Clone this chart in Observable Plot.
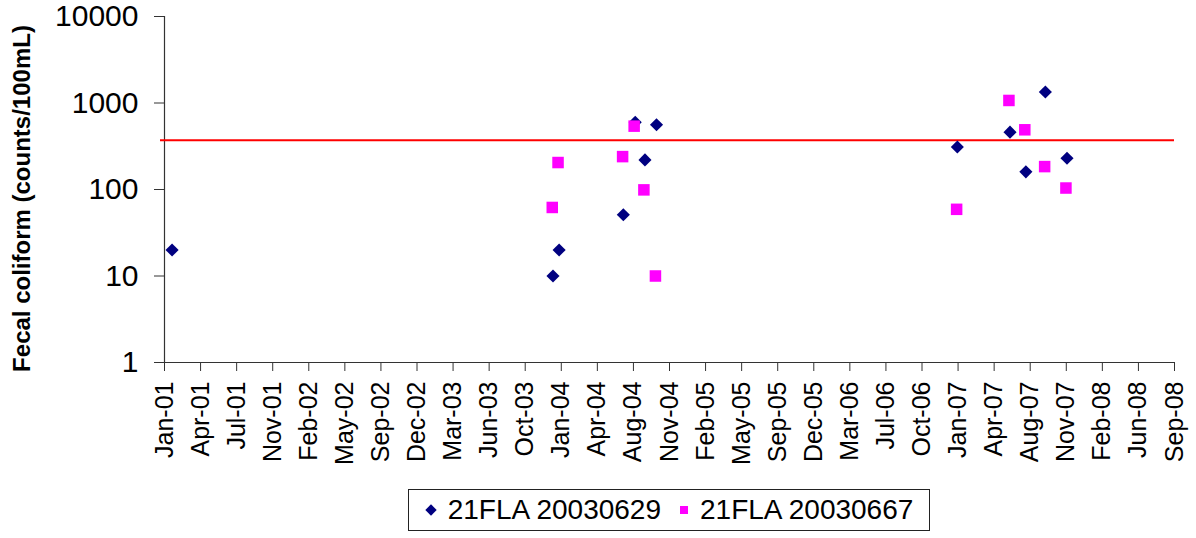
<!DOCTYPE html>
<html><head><meta charset="utf-8">
<script src="https://cdn.jsdelivr.net/npm/d3@7"></script>
<script src="https://cdn.jsdelivr.net/npm/@observablehq/plot@0.6"></script>
<style>
body{margin:0;background:#fff;font-family:Arial,"Liberation Sans",sans-serif;}
#chart{position:relative;width:1196px;height:538px;overflow:hidden;}
#legend{position:absolute;left:408px;top:489px;width:522px;height:42px;border:1px solid #222;box-sizing:border-box;display:flex;align-items:center;justify-content:center;font-size:28px;color:#000;white-space:nowrap;}
.item{display:flex;align-items:center;}
.sw{display:inline-block;margin-right:11px;}
</style>
</head><body>
<div id="chart"></div>
<script>
// ---- data ----
const seriesNames = ["21FLA 20030629", "21FLA 20030667"];
const seriesColors = ["#000080", "#ff00ff"];
const datesA = ["2001-01-31","2003-12-23","2004-01-09","2004-07-05","2004-08-07","2004-09-03","2004-10-05","2007-01-17","2007-06-12","2007-07-26","2007-09-18","2007-11-17"];
const valuesA = [20, 10, 20, 51, 600, 220, 560, 310, 460, 160, 1340, 230];
const datesB = ["2003-12-21","2004-01-06","2004-07-03","2004-08-04","2004-08-31","2004-10-02","2007-01-15","2007-06-09","2007-07-23","2007-09-16","2007-11-14"];
const valuesB = [62, 205, 240, 540, 99, 10, 59, 1070, 490, 184, 104];
const threshold = 370;
const xTickLabels = ["Jan-01","Apr-01","Jul-01","Nov-01","Feb-02","May-02","Sep-02","Dec-02","Mar-03","Jun-03","Oct-03","Jan-04","Apr-04","Aug-04","Nov-04","Feb-05","May-05","Sep-05","Dec-05","Mar-06","Jul-06","Oct-06","Jan-07","Apr-07","Aug-07","Nov-07","Feb-08","Jun-08","Sep-08"];
const axisStart = "2001-01-10";
const tickStepDays = 100;
const yTicks = [1, 10, 100, 1000, 10000];
const yTitle = "Fecal coliform (counts/100mL)";

// ---- build ----
const start = new Date(axisStart + "T00:00:00Z");
const xTicks = xTickLabels.map((_, i) => d3.utcDay.offset(start, tickStepDays * i));
const labelMap = new Map(xTicks.map((d, i) => [+d, xTickLabels[i]]));
const rowsA = datesA.map((d, i) => ({date: new Date(d + "T00:00:00Z"), value: valuesA[i]}));
const rowsB = datesB.map((d, i) => ({date: new Date(d + "T00:00:00Z"), value: valuesB[i]}));

const chart = Plot.plot({
  width: 1196,
  height: 470,
  marginLeft: 164,
  marginRight: 22,
  marginTop: 16,
  marginBottom: 108,
  style: {fontFamily: "Arial, 'Liberation Sans', sans-serif", color: "#000", background: "#fff"},
  x: {type: "utc", domain: [xTicks[0], xTicks[xTicks.length - 1]]},
  y: {type: "log", domain: [1, 10000]},
  marks: [
    Plot.axisY({ticks: yTicks, tickFormat: d => String(d), tickSize: 10, tickPadding: 16, fontSize: 30, label: null, stroke: "#333"}),
    Plot.axisX({ticks: xTicks, tickFormat: d => labelMap.get(+d), tickRotate: -90, tickSize: 9, tickPadding: 10, fontSize: 25, label: null, stroke: "#333"}),
    Plot.ruleX([xTicks[0]], {stroke: "#333", strokeWidth: 1.2}),
    Plot.ruleY([1], {stroke: "#333", strokeWidth: 1.2, insetLeft: -10}),
    Plot.ruleY([threshold], {stroke: "#ff0000", strokeWidth: 2, insetLeft: -4}),
    Plot.dot(rowsA, {x: "date", y: "value", symbol: "diamond2", r: 5.9, fill: seriesColors[0], stroke: "none"}),
    Plot.dot(rowsB, {x: "date", y: "value", symbol: "square", r: 6.5, fill: seriesColors[1], stroke: "none"}),
    Plot.text([yTitle], {frameAnchor: "left", textAnchor: "middle", lineAnchor: "middle", dx: -142, dy: 9, rotate: -90, fontSize: 24, fontWeight: "bold", fill: "#000"})
  ]
});
document.getElementById("chart").appendChild(chart);

const legend = document.createElement("div");
legend.id = "legend";
legend.innerHTML =
  `<span class="item"><svg class="sw" width="12" height="12"><rect x="2" y="2" width="8" height="8" transform="rotate(45 6 6)" fill="${seriesColors[0]}"/></svg>${seriesNames[0]}</span>` +
  `<span class="item" style="margin-left:18px"><svg class="sw" width="10" height="10"><rect x="1" y="1" width="8" height="8" fill="${seriesColors[1]}"/></svg>${seriesNames[1]}</span>`;
document.getElementById("chart").appendChild(legend);
</script>
</body></html>
